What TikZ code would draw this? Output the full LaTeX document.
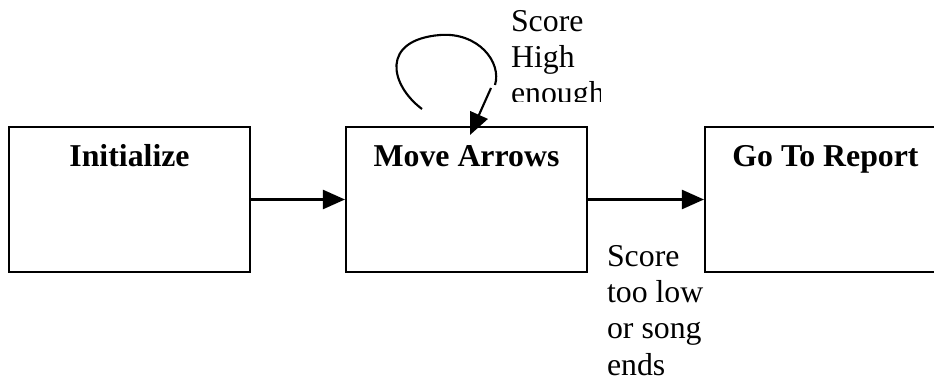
\documentclass[tikz,border=0pt]{standalone}
\usepackage{fontspec}
\setmainfont{Liberation Serif}
\usetikzlibrary{arrows.meta}

\begin{document}
\begin{tikzpicture}[x=0.3774pt, y=-0.3774pt, line width=0.8pt,
	box/.style={draw, minimum width=90.95pt, minimum height=54.7pt, inner sep=0pt},
	title/.style={font=\fontsize{12}{13.6}\selectfont\bfseries, anchor=base, inner sep=0pt},
	note/.style={font=\fontsize{12}{13.6}\selectfont, align=left, anchor=base west, inner sep=0pt},
	flow/.style={-{Triangle[length=8.3pt, width=7.2pt]}}]
	\useasboundingbox (0,0) rectangle (934,381);
	\node[box] (init) at (129.5,199.5) {};
	\node[box] (move) at (466.5,199.5) {};
	\node[box] (report) at (825.5,199.5) {};
	\node[title] (initT) at (129.5,167) {Initialize};
	\node[title] (moveT) at (466.5,167) {Move Arrows};
	\node[title] (reportT) at (825.5,167) {Go To Report};
	\draw[flow] (init) -- (move);
	\draw[flow] (move) -- (report);
	\coordinate (loopA) at (422,109);
	\coordinate (loopTop) at (440,35);
	\coordinate (loopB) at (495,85);
	\coordinate (loopC) at (491,88);
	\coordinate (loopTip) at (470,135);
	\draw (loopA) .. controls (390,85) and (380,40) .. (loopTop) .. controls (478,32) and (502,62) .. (loopB);
	\draw[flow] (loopC) -- (loopTip);
	\begin{scope}
		\clip (500,0) rectangle (600,102);
		\node[note] (highNote) at (510,104) {Score\\High\\enough};
	\end{scope}
	\node[note] (lowNote) at (606,375) {Score\\too low\\or song\\ends};
\end{tikzpicture}
\end{document}
